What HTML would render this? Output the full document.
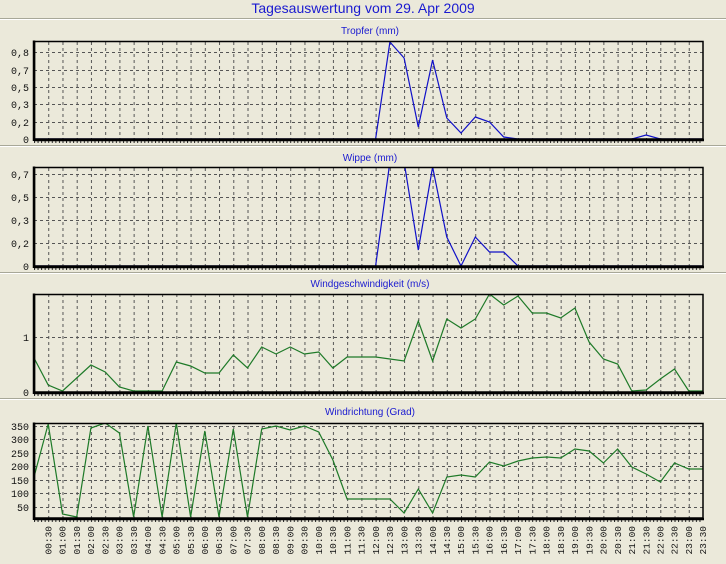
<!DOCTYPE html>
<html><head><meta charset="utf-8"><style>
html,body{margin:0;padding:0;background:#ebe9da;}
svg{display:block}
.t{font-family:"Liberation Sans",sans-serif;font-size:10px;fill:#1a1ad0}
.y{font-family:"Liberation Mono",monospace;font-size:10px;fill:#111}
.x{font-family:"Liberation Mono",monospace;font-size:9.5px;fill:#111}
.g{stroke:#555;stroke-width:1;stroke-dasharray:3 3;fill:none}
</style></head><body>
<svg width="726" height="564" viewBox="0 0 726 564" xmlns="http://www.w3.org/2000/svg">
<defs>
<pattern id="vg" patternUnits="userSpaceOnUse" x="34" y="0" width="14.234" height="564">
<line x1="0.5" y1="0" x2="0.5" y2="564" stroke="#555" stroke-width="1" stroke-dasharray="3 3"/>
</pattern>
<pattern id="mt" patternUnits="userSpaceOnUse" x="34" y="0" width="3.5585" height="10">
<line x1="0.5" y1="0" x2="0.5" y2="10" stroke="#222" stroke-width="1"/>
</pattern>
<clipPath id="c1"><rect x="34" y="41" width="669" height="98"/></clipPath>
<clipPath id="c2"><rect x="34" y="167" width="669" height="99"/></clipPath>
<clipPath id="c3"><rect x="34" y="294" width="669" height="98"/></clipPath>
<clipPath id="c4"><rect x="34" y="423" width="669" height="95"/></clipPath>
</defs>
<rect width="726" height="564" fill="#ebe9da"/>
<text x="363" y="13" text-anchor="middle" style="font-family:'Liberation Sans',sans-serif;font-size:14px;fill:#1a1ad0">Tagesauswertung vom 29. Apr 2009</text>
<line x1="0" y1="18.5" x2="726" y2="18.5" stroke="#a8a898"/><line x1="0" y1="19.5" x2="726" y2="19.5" stroke="#fff"/>
<line x1="0" y1="145.5" x2="726" y2="145.5" stroke="#a8a898"/><line x1="0" y1="146.5" x2="726" y2="146.5" stroke="#fff"/>
<line x1="0" y1="272.5" x2="726" y2="272.5" stroke="#a8a898"/><line x1="0" y1="273.5" x2="726" y2="273.5" stroke="#fff"/>
<line x1="0" y1="398.5" x2="726" y2="398.5" stroke="#a8a898"/><line x1="0" y1="399.5" x2="726" y2="399.5" stroke="#fff"/>

<!-- Panel 1 -->
<text class="t" x="370" y="34" text-anchor="middle">Tropfer (mm)</text>
<rect x="48" y="41" width="655" height="98" fill="url(#vg)"/>
<g class="g"><line x1="34" y1="52.5" x2="703" y2="52.5"/><line x1="34" y1="70.5" x2="703" y2="70.5"/><line x1="34" y1="87.5" x2="703" y2="87.5"/><line x1="34" y1="104.5" x2="703" y2="104.5"/><line x1="34" y1="122.5" x2="703" y2="122.5"/></g>
<g class="y" text-anchor="end"><text x="29" y="56">0,8</text><text x="29" y="74">0,7</text><text x="29" y="91">0,5</text><text x="29" y="108">0,3</text><text x="29" y="126">0,2</text><text x="29" y="143">0</text></g>
<polyline clip-path="url(#c1)" fill="none" stroke="#1010c8" stroke-width="1.2" points="34,139 375.6,139 389.9,42 404.1,58 418.3,127 432.6,60 446.8,118 461,133 475.3,117 489.5,122 503.7,137 518,139 631.8,139 646.1,135 660.3,139 703,139"/>
<rect x="34" y="140" width="669" height="3" fill="url(#mt)"/>
<rect x="34.5" y="41.5" width="668.5" height="97.5" fill="none" stroke="#000" stroke-width="1.5"/>
<line x1="34" y1="140" x2="704" y2="140" stroke="#000" stroke-width="2.5"/><line x1="34" y1="40.5" x2="34" y2="141" stroke="#000" stroke-width="2.5"/>

<!-- Panel 2 -->
<text class="t" x="370" y="161" text-anchor="middle">Wippe (mm)</text>
<rect x="48" y="167" width="655" height="99" fill="url(#vg)"/>
<g class="g"><line x1="34" y1="174.5" x2="703" y2="174.5"/><line x1="34" y1="197.5" x2="703" y2="197.5"/><line x1="34" y1="220.5" x2="703" y2="220.5"/><line x1="34" y1="243.5" x2="703" y2="243.5"/></g>
<g class="y" text-anchor="end"><text x="29" y="178">0,7</text><text x="29" y="201">0,5</text><text x="29" y="224">0,3</text><text x="29" y="247">0,2</text><text x="29" y="270">0</text></g>
<polyline clip-path="url(#c2)" fill="none" stroke="#1010c8" stroke-width="1.2" points="34,266 375.6,266 389.9,162 404.1,162 418.3,250 432.6,167 446.8,237 461,266 475.3,237 489.5,252 503.7,252 518,266 703,266"/>
<rect x="34" y="267" width="669" height="3" fill="url(#mt)"/>
<rect x="34.5" y="167.5" width="668.5" height="98.5" fill="none" stroke="#000" stroke-width="1.5"/>
<line x1="34" y1="267" x2="704" y2="267" stroke="#000" stroke-width="2.5"/><line x1="34" y1="166.5" x2="34" y2="268" stroke="#000" stroke-width="2.5"/>

<!-- Panel 3 -->
<text class="t" x="370" y="287" text-anchor="middle">Windgeschwindigkeit (m/s)</text>
<rect x="48" y="294" width="655" height="98" fill="url(#vg)"/>
<g class="g"><line x1="34" y1="337.5" x2="703" y2="337.5"/></g>
<g class="y" text-anchor="end"><text x="29" y="341">1</text><text x="29" y="396">0</text></g>
<polyline clip-path="url(#c3)" fill="none" stroke="#1e7a28" stroke-width="1.2" points="34,358 48.2,385 62.5,391 76.7,378 90.9,365 105.2,372 119.4,387 133.6,391 147.9,391 162.1,391 176.3,362 190.6,366 204.8,373 219,373 233.3,355 247.5,368 261.7,347 276,354 290.2,347 304.4,354 318.7,352 332.9,368 347.1,357 361.4,357 375.6,357 389.9,359 404.1,361 418.3,321 432.6,361 446.8,319 461,328 475.3,319 489.5,294 503.7,305 518,296 532.2,313 546.4,313 560.7,318 574.9,308 589.1,342 603.4,359 617.6,364 631.8,391 646.1,390 660.3,379 674.5,369 688.8,391 703,391"/>
<rect x="34" y="393" width="669" height="3" fill="url(#mt)"/>
<rect x="34.5" y="294.5" width="668.5" height="97.5" fill="none" stroke="#000" stroke-width="1.5"/>
<line x1="34" y1="393" x2="704" y2="393" stroke="#000" stroke-width="2.5"/><line x1="34" y1="293.5" x2="34" y2="394" stroke="#000" stroke-width="2.5"/>

<!-- Panel 4 -->
<text class="t" x="370" y="415" text-anchor="middle">Windrichtung (Grad)</text>
<rect x="48" y="423" width="655" height="95" fill="url(#vg)"/>
<g class="g"><line x1="34" y1="426.5" x2="703" y2="426.5"/><line x1="34" y1="439.5" x2="703" y2="439.5"/><line x1="34" y1="453.5" x2="703" y2="453.5"/><line x1="34" y1="466.5" x2="703" y2="466.5"/><line x1="34" y1="480.5" x2="703" y2="480.5"/><line x1="34" y1="493.5" x2="703" y2="493.5"/><line x1="34" y1="507.5" x2="703" y2="507.5"/></g>
<g class="y" text-anchor="end"><text x="29" y="430">350</text><text x="29" y="443">300</text><text x="29" y="457">250</text><text x="29" y="470">200</text><text x="29" y="484">150</text><text x="29" y="497">100</text><text x="29" y="511">50</text></g>
<polyline clip-path="url(#c4)" fill="none" stroke="#1e7a28" stroke-width="1.2" points="34,477 48.2,424 62.5,514 76.7,517 90.9,428 105.2,423 119.4,433 133.6,517 147.9,426 162.1,517 176.3,423 190.6,517 204.8,431 219,517 233.3,429 247.5,517 261.7,429 276,426 290.2,430 304.4,426 318.7,432 332.9,460 347.1,499 361.4,499 375.6,499 389.9,499 404.1,513 418.3,489 432.6,513 446.8,477 461,475 475.3,477 489.5,462 503.7,466 518,461 532.2,458 546.4,457 560.7,458 574.9,449 589.1,451 603.4,463 617.6,449 631.8,467 646.1,474 660.3,482 674.5,463 688.8,469 703,469"/>
<rect x="34" y="519" width="669" height="3" fill="url(#mt)"/>
<rect x="34.5" y="423.5" width="668.5" height="94.5" fill="none" stroke="#000" stroke-width="1.5"/>
<line x1="34" y1="519" x2="704" y2="519" stroke="#000" stroke-width="2.5"/><line x1="34" y1="422.5" x2="34" y2="520" stroke="#000" stroke-width="2.5"/>

<g class="x" text-anchor="end">
<text transform="translate(51.4,526) rotate(-90)">00:30</text>
<text transform="translate(65.7,526) rotate(-90)">01:00</text>
<text transform="translate(79.9,526) rotate(-90)">01:30</text>
<text transform="translate(94.1,526) rotate(-90)">02:00</text>
<text transform="translate(108.4,526) rotate(-90)">02:30</text>
<text transform="translate(122.6,526) rotate(-90)">03:00</text>
<text transform="translate(136.8,526) rotate(-90)">03:30</text>
<text transform="translate(151.1,526) rotate(-90)">04:00</text>
<text transform="translate(165.3,526) rotate(-90)">04:30</text>
<text transform="translate(179.5,526) rotate(-90)">05:00</text>
<text transform="translate(193.8,526) rotate(-90)">05:30</text>
<text transform="translate(208,526) rotate(-90)">06:00</text>
<text transform="translate(222.2,526) rotate(-90)">06:30</text>
<text transform="translate(236.5,526) rotate(-90)">07:00</text>
<text transform="translate(250.7,526) rotate(-90)">07:30</text>
<text transform="translate(264.9,526) rotate(-90)">08:00</text>
<text transform="translate(279.2,526) rotate(-90)">08:30</text>
<text transform="translate(293.4,526) rotate(-90)">09:00</text>
<text transform="translate(307.6,526) rotate(-90)">09:30</text>
<text transform="translate(321.9,526) rotate(-90)">10:00</text>
<text transform="translate(336.1,526) rotate(-90)">10:30</text>
<text transform="translate(350.3,526) rotate(-90)">11:00</text>
<text transform="translate(364.6,526) rotate(-90)">11:30</text>
<text transform="translate(378.8,526) rotate(-90)">12:00</text>
<text transform="translate(393.1,526) rotate(-90)">12:30</text>
<text transform="translate(407.3,526) rotate(-90)">13:00</text>
<text transform="translate(421.5,526) rotate(-90)">13:30</text>
<text transform="translate(435.8,526) rotate(-90)">14:00</text>
<text transform="translate(450,526) rotate(-90)">14:30</text>
<text transform="translate(464.2,526) rotate(-90)">15:00</text>
<text transform="translate(478.5,526) rotate(-90)">15:30</text>
<text transform="translate(492.7,526) rotate(-90)">16:00</text>
<text transform="translate(506.9,526) rotate(-90)">16:30</text>
<text transform="translate(521.2,526) rotate(-90)">17:00</text>
<text transform="translate(535.4,526) rotate(-90)">17:30</text>
<text transform="translate(549.6,526) rotate(-90)">18:00</text>
<text transform="translate(563.9,526) rotate(-90)">18:30</text>
<text transform="translate(578.1,526) rotate(-90)">19:00</text>
<text transform="translate(592.3,526) rotate(-90)">19:30</text>
<text transform="translate(606.6,526) rotate(-90)">20:00</text>
<text transform="translate(620.8,526) rotate(-90)">20:30</text>
<text transform="translate(635,526) rotate(-90)">21:00</text>
<text transform="translate(649.3,526) rotate(-90)">21:30</text>
<text transform="translate(663.5,526) rotate(-90)">22:00</text>
<text transform="translate(677.7,526) rotate(-90)">22:30</text>
<text transform="translate(692,526) rotate(-90)">23:00</text>
<text transform="translate(706.2,526) rotate(-90)">23:30</text>
</g>
</svg>
</body></html>
